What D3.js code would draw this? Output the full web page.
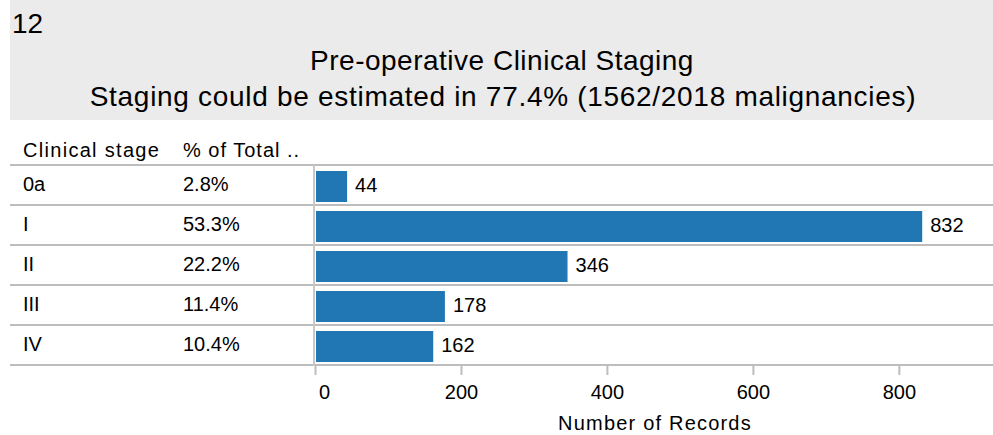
<!DOCTYPE html>
<html><head>
<meta charset="utf-8">
<script src="https://cdnjs.cloudflare.com/ajax/libs/d3/7.8.5/d3.min.js"></script>
<style>
body { margin: 0; background: #fff; }
text { font-family: "Liberation Sans", Arial, sans-serif; fill: #000; }
</style>
</head>
<body>
<svg id="chart" width="993" height="435"></svg>
<script>
var stages = ["0a", "I", "II", "III", "IV"];
var records = [44, 832, 346, 178, 162];
var pctTotal = ["2.8%", "53.3%", "22.2%", "11.4%", "10.4%"];
var xTicks = [0, 200, 400, 600, 800];

var svg = d3.select("#chart");

// header band
svg.append("rect").attr("x", 10).attr("y", 0).attr("width", 983).attr("height", 120).attr("fill", "#ebebec");
svg.append("text").attr("x", 12).attr("y", 33).attr("font-size", 28).text("12");
svg.append("text").attr("x", 502).attr("y", 70).attr("text-anchor", "middle").attr("font-size", 28)
  .attr("letter-spacing", 0.5).text("Pre-operative Clinical Staging");
svg.append("text").attr("x", 503).attr("y", 106).attr("text-anchor", "middle").attr("font-size", 28)
  .attr("letter-spacing", 0.7).text("Staging could be estimated in 77.4% (1562/2018 malignancies)");

// column headers
svg.append("text").attr("x", 23).attr("y", 157).attr("font-size", 20).attr("letter-spacing", 1.3).text("Clinical stage");
svg.append("text").attr("x", 183).attr("y", 157).attr("font-size", 20).attr("letter-spacing", 1.0).text("% of Total ..");

var x = d3.scaleLinear().domain([0, 929]).range([315, 993]);
var rows = d3.scaleBand().domain(stages).range([165, 365]);

// row separators
svg.selectAll(".sep").data(stages.concat(["end"])).enter().append("line")
  .attr("x1", 10).attr("x2", 993)
  .attr("y1", function(d, i) { return 165 + i * rows.bandwidth(); })
  .attr("y2", function(d, i) { return 165 + i * rows.bandwidth(); })
  .attr("stroke", "#bdbdbd").attr("stroke-width", 2);

svg.append("line").attr("x1", 314).attr("x2", 314).attr("y1", 165).attr("y2", 366)
  .attr("stroke", "#c8c8c8").attr("stroke-width", 2);

// row labels
svg.selectAll(".stage").data(stages).enter().append("text")
  .attr("x", 23).attr("y", function(d) { return rows(d) + rows.bandwidth() / 2 + 6; })
  .attr("font-size", 20).text(function(d) { return d; });
svg.selectAll(".pct").data(stages).enter().append("text")
  .attr("x", 183).attr("y", function(d) { return rows(d) + rows.bandwidth() / 2 + 6; })
  .attr("font-size", 20).text(function(d, i) { return pctTotal[i]; });

// bars
svg.selectAll(".bar").data(records).enter().append("rect")
  .attr("x", x(0) + 1)
  .attr("y", function(d, i) { return rows(stages[i]) + 6; })
  .attr("width", function(d) { return x(d) - x(0) - 1; })
  .attr("height", rows.bandwidth() * 0.775)
  .attr("fill", "#2077b4");
svg.selectAll(".val").data(records).enter().append("text")
  .attr("x", function(d) { return x(d) + 8; })
  .attr("y", function(d, i) { return rows(stages[i]) + rows.bandwidth() / 2 + 7; })
  .attr("font-size", 20).text(function(d) { return d; });

// axis
var axis = svg.append("g").attr("transform", "translate(0,365)")
  .call(d3.axisBottom(x).tickValues(xTicks).tickSize(10).tickPadding(10));
axis.select(".domain").remove();
axis.selectAll(".tick line").attr("stroke", "#bdbdbd").attr("stroke-width", 2);
axis.selectAll(".tick text").attr("font-size", 20).attr("fill", "#000")
  .attr("font-family", "Liberation Sans, Arial, sans-serif")
  .attr("dx", function(d) { return d === 0 ? 9 : 0; });

svg.append("text").attr("x", 655).attr("y", 430).attr("text-anchor", "middle").attr("font-size", 20)
  .attr("letter-spacing", 1.2).text("Number of Records");
</script>
</body></html>
